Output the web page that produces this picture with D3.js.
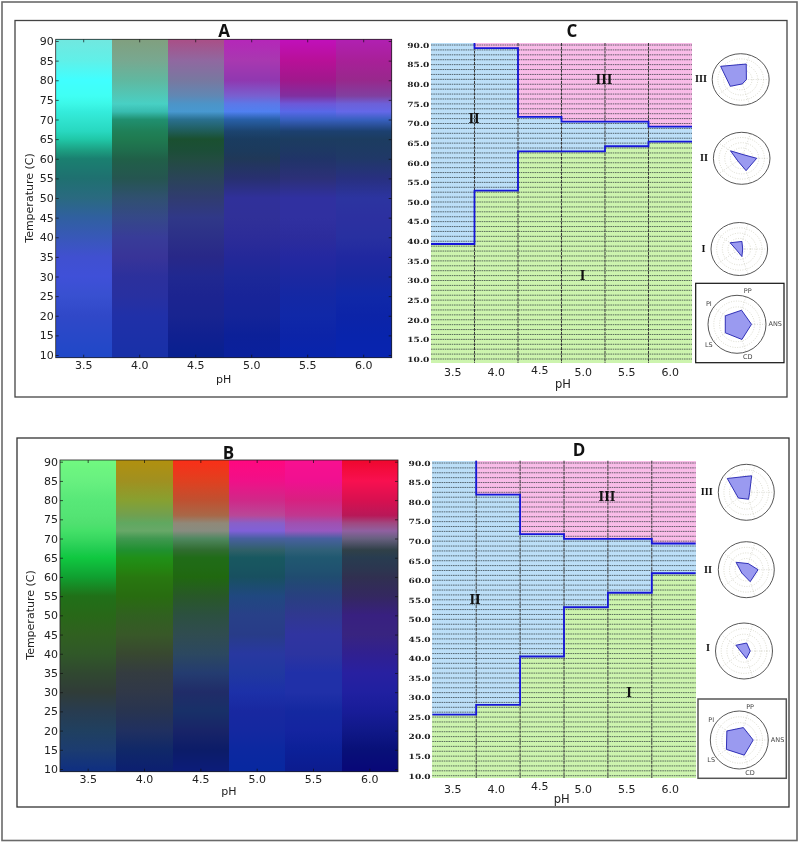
<!DOCTYPE html>
<html><head><meta charset="utf-8">
<script src="https://cdnjs.cloudflare.com/ajax/libs/d3/7.8.5/d3.min.js"></script>
<style>html,body{margin:0;padding:0;background:#fff}svg{display:block;filter:blur(0.35px)}</style>
</head><body><svg id="c" width="800" height="843"></svg>
<script>
const pHs = [3.5, 4.0, 4.5, 5.0, 5.5, 6.0];
const tempTicks = d3.range(10, 91, 5);
const radarAxes = ["ANS", "PP", "PI", "LS", "CD"];
const heatTemps = [90,85,80,76,74,72,70,67,65,62,60,55,50,45,40,35,30,25,20,15,10];

const heatA35 = ["#70e8e0","#60f0e8","#40ffff","#40fff4","#3cf8e8","#34ecdc","#30e4d0","#28d8c0","#20c8a8","#1c9c80","#1a8070","#1f7070","#2a6a80","#3060a0","#3858b8","#4050d0","#3f50d8","#3850d0","#3048c8","#2848c8","#2048c8"];
const heatA40 = ["#80a080","#78a890","#60b8a0","#50c8b8","#48d0c4","#38bcb0","#209070","#1f8058","#1f7a50","#1f6c4c","#206048","#255550","#305070","#354888","#383c98","#383498","#2c309c","#2830a0","#2030a8","#1c30a8","#1830a8"];
const heatA45 = ["#a85088","#9068a0","#7878a0","#6088b4","#4c94c8","#4898d0","#2a7090","#1f5c58","#1a5030","#1c4e38","#224c40","#2a4458","#303c70","#303888","#2c3088","#282888","#202890","#1c2490","#182490","#102090","#082090"];
const heatA50 = ["#b428b8","#a838b0","#9038b0","#7860d0","#5c78e8","#5080f0","#2860a8","#1c4470","#1a3c60","#1c3a5c","#203858","#283070","#30309a","#303098","#2c2c98","#242898","#1c2898","#182498","#142498","#0c2098","#0a209c"];
const heatA55 = ["#c010b8","#b81098","#a0188c","#8030a0","#6c58d8","#5868e8","#3860c0","#1c4070","#1c3c60","#1e3864","#203468","#2c3078","#3030a0","#3030a0","#2c2c9c","#2428a0","#1c28a0","#1428a4","#1028a8","#0c24a8","#0824ac"];
const heatA60 = ["#b020b0","#a82098","#98288c","#8040a0","#6c60d8","#6468e8","#3860c0","#1c4070","#1c3c60","#1e3a64","#203868","#283080","#2c34a0","#2c30a0","#2830a0","#2028a0","#1828a0","#1028a8","#0c24a8","#0824ac","#0824b0"];

const heatB35 = ["#70f880","#68f080","#58e878","#54e474","#50e070","#44e068","#38d860","#20cc50","#10c840","#10b038","#10a030","#207018","#286818","#306020","#305828","#304830","#303c38","#283c50","#204060","#1c3c70","#103080"];
const heatB40 = ["#b09010","#a09020","#88a030","#70a050","#60a860","#68a868","#409850","#209030","#209018","#248410","#287810","#286c10","#306020","#385828","#384830","#343c40","#303848","#283450","#203060","#102868","#0c2070"];
const heatB45 = ["#f83018","#e04020","#c05030","#a86848","#908878","#888c80","#508860","#306c30","#206c18","#206a14","#206810","#285828","#2c5040","#304c50","#2c4860","#243c70","#202c68","#183068","#182468","#0c1c68","#0c1c78"];
const heatB50 = ["#ff0880","#f01088","#d02888","#b84898","#8860c8","#8060d8","#4860a0","#306068","#185860","#185460","#185060","#204880","#284088","#283c88","#2838a0","#2038a0","#1c30a8","#1828a0","#1428a0","#0c28a0","#0828a0"];
const heatB55 = ["#f81090","#f01090","#d82080","#c03890","#a050b0","#9858c0","#4860a0","#306078","#205870","#205270","#204c70","#284080","#303890","#3034a0","#2c34a0","#2030a8","#2030a8","#1428a0","#1424a0","#0c2098","#0c1c90"];
const heatB60 = ["#f00830","#f81050","#d81050","#b81858","#a04880","#9060a0","#686080","#304048","#283c50","#2c3650","#303050","#342860","#382080","#382480","#302090","#2820a0","#2020a0","#181c98","#101888","#081078","#080878"];

// phase boundaries per pH column (null: phase III absent in that column)
const boundC12 = [39.3, 52.9, 62.9, 62.9, 64.2, 65.4];
const boundC23 = [null, 89.2, 71.7, 70.5, 70.5, 69.2];
const boundD12 = [25.6, 28.1, 40.5, 53.1, 56.8, 61.8];
const boundD23 = [null, 81.9, 71.8, 70.6, 70.6, 69.4];

// radar values in radarAxes order
const radarC3 = [0.2, 0.63, 0.87, 0.45, 0.18];
const radarC2 = [0.53, 0.15, 0.49, 0.17, 0.5];
const radarC1 = [0.12, 0.3, 0.4, 0.1, 0.3];
const radarCL = [0.5, 0.51, 0.5, 0.5, 0.55];
const radarD3 = [0.12, 0.62, 0.84, 0.35, 0.26];
const radarD2 = [0.42, 0.23, 0.45, 0.2, 0.45];
const radarD1 = [0.22, 0.3, 0.35, 0.1, 0.28];
const radarDL = [0.48, 0.45, 0.53, 0.55, 0.55];

const svg = d3.select("#c");
const SANS = "'DejaVu Sans',sans-serif", SERIF = "'DejaVu Serif',serif", TITLE = "'Open Sans','Noto Sans',sans-serif";
const defs = svg.append("defs");

function box(x0, y0, x1, y1, color, w) {
  svg.append("rect").attr("x", x0).attr("y", y0).attr("width", x1 - x0).attr("height", y1 - y0)
    .attr("fill", "none").attr("stroke", color).attr("stroke-width", w);
}
function text(s, x, y, size, opt = {}) {
  return svg.append("text").attr("x", x).attr("y", y).attr("text-anchor", "middle").attr("dominant-baseline", "central")
    .attr("font-family", opt.family || SANS).attr("font-weight", opt.weight || "normal").attr("font-size", size)
    .attr("fill", opt.fill || "#222").text(s);
}

box(2, 2, 797, 840.5, "#6a6a6a", 1.6);
box(15, 20.5, 787, 397, "#444", 1.3);
box(17, 438, 789, 807, "#333", 1.3);

function heatPanel(id, cols, L, R, T, B, y90, y10, tickY, labelY, tempX, tempY, title, tx, ty) {
  const x = d3.scaleBand().domain(pHs).range([L, R]);
  const y = d3.scaleLinear().domain([10, 90]).range([y10, y90]);
  cols.forEach((col, i) => {
    const g = defs.append("linearGradient").attr("id", id + i).attr("gradientUnits", "userSpaceOnUse")
      .attr("x1", 0).attr("x2", 0).attr("y1", T).attr("y2", B);
    g.selectAll("stop").data(col).join("stop")
      .attr("offset", (d, k) => (y(heatTemps[k]) - T) / (B - T))
      .attr("stop-color", d => d);
    svg.append("rect").attr("x", x(pHs[i])).attr("y", T).attr("width", x.bandwidth() + (i < 5 ? 1 : 0)).attr("height", B - T)
      .attr("shape-rendering", "crispEdges").attr("fill", `url(#${id}${i})`);
  });
  const ax = svg.append("g").attr("transform", `translate(0,${B})`)
    .call(d3.axisBottom(x).tickSizeInner(-3).tickSizeOuter(0).tickPadding(3).tickFormat(d3.format(".1f")));
  const ay = svg.append("g").attr("transform", `translate(${L},0)`)
    .call(d3.axisLeft(y).tickValues(tempTicks).tickSizeInner(-3).tickSizeOuter(0).tickPadding(2).tickFormat(d3.format("d")));
  [ax, ay].forEach(a => { a.select(".domain").remove();
    a.selectAll("text").attr("font-family", SANS).attr("font-size", 11).attr("fill", "#222");
    a.selectAll("line").attr("stroke", "#111").attr("stroke-width", 0.7); });
  ax.selectAll("text").attr("y", null).attr("dy", null).attr("dominant-baseline", "central")
    .attr("transform", `translate(0,${tickY - B})`);
  const rt = svg.append("g").attr("transform", `translate(${R},0)`).call(d3.axisRight(y).tickValues(tempTicks).tickSizeInner(-3).tickSizeOuter(0).tickFormat(""));
  const tp = svg.append("g").attr("transform", `translate(0,${T})`).call(d3.axisTop(x).tickSizeInner(-3).tickSizeOuter(0).tickFormat(""));
  [rt, tp].forEach(a => { a.select(".domain").remove(); a.selectAll("line").attr("stroke", "#111").attr("stroke-width", 0.7); });
  box(L, T, R, B, "#222", 0.8);
  text("pH", (L + R) / 2, labelY, 11);
  text("Temperature (C)", 0, 0, 11).attr("x", null).attr("y", null)
    .attr("transform", `translate(${tempX},${tempY}) rotate(-90)`);
  text(title, tx, ty, 17, { family: TITLE, weight: "bold", fill: "#111" });
}

heatPanel("hA", [heatA35, heatA40, heatA45, heatA50, heatA55, heatA60], 55.7, 391.7, 39.3, 357.7, 41, 355, 365.7, 379, 29, 198, "A", 224, 30);
heatPanel("hB", [heatB35, heatB40, heatB45, heatB50, heatB55, heatB60], 60, 398, 460, 771.7, 461.7, 769, 779, 791.7, 30.7, 615, "B", 228.5, 452);

function phasePanel(b12, b23, L, R, T, B, y90, y10, labelL, labelR, tickY, phY, phX, title, tx, ty, marks, sideMarks) {
  const x = d3.scaleBand().domain(pHs).range([L, R]);
  const y = d3.scaleLinear().domain([10, 90]).range([y10, y90]);
  const yMax = y.invert(T), yMin = y.invert(B);
  pHs.forEach((p, i) => {
    const top = b23[i] == null ? yMax : b23[i];
    const band = (hi, lo, c) => svg.append("rect").attr("x", x(p)).attr("width", x.bandwidth() + (i < 5 ? 1 : 0))
      .attr("y", y(hi)).attr("height", Math.max(0, y(lo) - y(hi))).attr("fill", c).attr("shape-rendering", "crispEdges");
    band(yMax, top, "#f9bce8");
    band(top, b12[i], "#bcdff8");
    band(b12[i], yMin, "#cdf4ae");
  });
  const gridVals = d3.range(10, 90.01, 1.25);
  svg.append("g").selectAll("line").data(gridVals).join("line")
    .attr("x1", L).attr("x2", R).attr("y1", d => y(d)).attr("y2", d => y(d))
    .attr("stroke", "#2a3438").attr("stroke-width", 0.7).attr("stroke-dasharray", "1.6,0.7");
  svg.append("g").selectAll("line").data(pHs.slice(1)).join("line")
    .attr("x1", d => x(d)).attr("x2", d => x(d)).attr("y1", T).attr("y2", B)
    .attr("stroke", "#3a3a3a").attr("stroke-width", 1).attr("stroke-dasharray", "3,0.8");
  const stepPts = b => {
    const pts = [];
    pHs.forEach((p, i) => {
      if (b[i] == null) return;
      if (i > 0 && b[i - 1] == null) pts.push([x(p), T]);
      pts.push([x(p), y(b[i])], [x(p) + x.bandwidth(), y(b[i])]);
    });
    return pts;
  };
  const line = d3.line();
  [b12, b23].forEach(b => svg.append("path").attr("d", line(stepPts(b))).attr("fill", "none")
    .attr("stroke", "#1616d8").attr("stroke-width", 1.8));
  const lx = d3.scaleBand().domain(pHs).range([labelL, labelR]);
  const ax = svg.append("g").attr("transform", `translate(0,${tickY})`)
    .call(d3.axisBottom(lx).tickSize(0).tickPadding(0).tickFormat(d3.format(".1f")));
  ax.select(".domain").remove();
  ax.selectAll("text").attr("y", d => d === 4.5 ? -2.5 : 0).attr("dy", null).attr("dominant-baseline", "central")
    .attr("font-family", SANS).attr("font-size", 11).attr("fill", "#222");
  const ay = svg.append("g").attr("transform", `translate(${L},0)`)
    .call(d3.axisLeft(y).tickValues(tempTicks).tickSize(0).tickPadding(1.7).tickFormat(d3.format(".1f")));
  ay.select(".domain").remove();
  ay.selectAll("text").attr("font-family", SERIF).attr("font-weight", "bold").attr("font-size", 7.2).attr("fill", "#222")
    .attr("textLength", 22).attr("lengthAdjust", "spacingAndGlyphs");
  text("pH", phX, phY, 11.5);
  text(title, tx, ty, 17, { family: TITLE, weight: "bold", fill: "#111" });
  marks.forEach(m => text(m[0], m[1], m[2], 12, { family: SERIF, weight: "bold", fill: "#111" }));
  sideMarks.forEach(m => text(m[0], m[1], m[2], 8.5, { family: SERIF, weight: "bold", fill: "#111" }));
}

phasePanel(boundC12, boundC23, 431, 692, 43, 363, 45, 359, 431, 692, 372.7, 384, 563, "C", 572, 30,
  [["II", 474, 119], ["III", 604, 80], ["I", 582.5, 276]],
  [["III", 701, 79], ["II", 704, 158], ["I", 703.5, 249]]);
phasePanel(boundD12, boundD23, 432.3, 695.7, 460.7, 778, 463, 775.7, 431, 692, 789, 799, 561.7, "D", 579, 449,
  [["II", 475, 600], ["III", 607, 497], ["I", 629, 693]],
  [["III", 706.7, 492], ["II", 708, 570], ["I", 708, 648]]);

function radar(vals, cx, cy, rx, ry, showLabels) {
  const g = svg.append("g").attr("transform", `translate(${cx},${cy}) scale(1,${ry / rx})`);
  const r = d3.scaleLinear().domain([0, 1]).range([0, rx]);
  const ang = i => Math.PI / 2 - 2 * Math.PI * i / 5;
  const ve = s => s.attr("vector-effect", "non-scaling-stroke");
  g.selectAll("circle.ring").data([0.2, 0.4, 0.6, 0.8]).join("circle").attr("class", "ring").attr("r", d => r(d))
    .attr("fill", "none").attr("stroke", "#c4c4b0").attr("stroke-width", 0.6).attr("stroke-dasharray", "1,1.5").call(ve);
  g.selectAll("line.sp").data(radarAxes).join("line").attr("class", "sp")
    .attr("x2", (d, i) => r(1) * Math.sin(ang(i))).attr("y2", (d, i) => -r(1) * Math.cos(ang(i)))
    .attr("stroke", "#c4c4b8").attr("stroke-width", 0.6).attr("stroke-dasharray", "1,1.5").call(ve);
  const path = d3.lineRadial().angle((d, i) => ang(i)).radius(d => r(d)).curve(d3.curveLinearClosed);
  g.append("path").attr("d", path(vals)).attr("fill", "#9a9af0").attr("stroke", "#2020b0").attr("stroke-width", 0.9).call(ve);
  g.append("circle").attr("r", r(1)).attr("fill", "none").attr("stroke", "#444").attr("stroke-width", 0.9).call(ve);
  if (showLabels) radarAxes.forEach((name, i) => {
    const k = i === 0 ? 1.32 : 1.2;
    text(name, cx + rx * k * Math.sin(ang(i)), cy - ry * k * Math.cos(ang(i)), 6.5, { fill: "#444" });
  });
}
radar(radarC3, 740.7, 79.5, 28.5, 25.8);
radar(radarC2, 741.7, 158.3, 28.3, 26);
radar(radarC1, 739.3, 249, 28.3, 26.5);
radar(radarCL, 737, 324.3, 29, 29, true);
box(695.7, 283.3, 784, 362.7, "#111", 1.2);
radar(radarD3, 746.3, 492.3, 28, 28);
radar(radarD2, 746.3, 569.7, 28, 28);
radar(radarD1, 744, 651, 28.5, 28);
radar(radarDL, 739.3, 740, 29, 29, true);
box(698, 699, 786.3, 778.3, "#555", 1.5);
</script></body></html>
